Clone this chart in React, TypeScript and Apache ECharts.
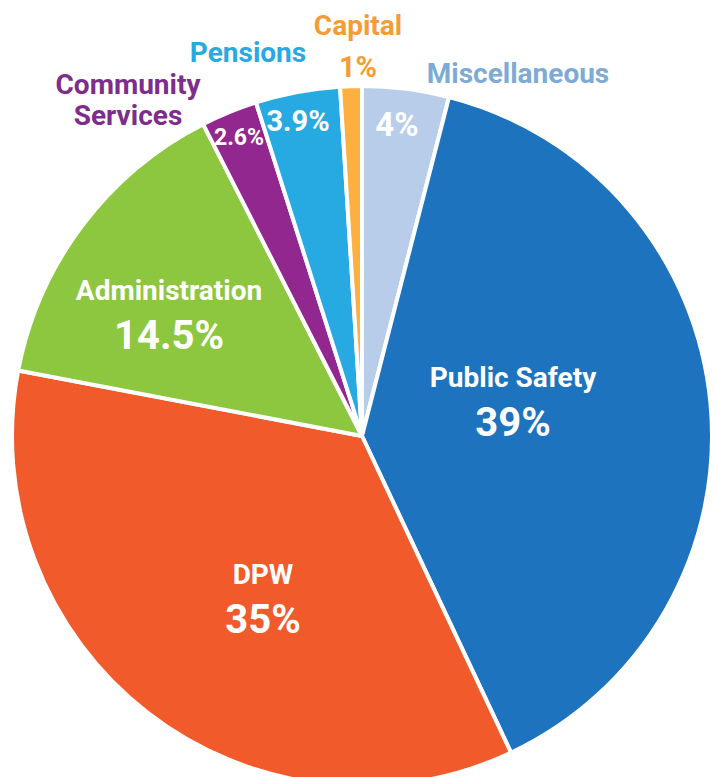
import React, { useEffect, useRef } from "react";
import * as echarts from "echarts";

const categories = ["Miscellaneous", "Public Safety", "DPW", "Administration", "Community Services", "Pensions", "Capital"];
const values = [4, 39, 35, 14.5, 2.6, 3.9, 1];
const sliceColors = ["#b7cdea", "#1e73be", "#f15a2b", "#8dc63f", "#92278f", "#27aae1", "#fbb040"];
const nameColors = ["#7eaad6", "#ffffff", "#ffffff", "#ffffff", "#7d2d8c", "#2aa9e0", "#f59c34"];
const outsideNames = ["Miscellaneous", "", "", "", "Community\nServices", "Pensions", "Capital"];

// label styling / placement (not data)
const FONT = "Roboto, 'Noto Sans', sans-serif";
type LS = { show: boolean; kind?: string; pos?: number[]; size?: number };
const innerLabels: LS[] = [
  { show: true, kind: "pct", pos: [397, 124], size: 33 },
  { show: true, kind: "big", pos: [513, 402] },
  { show: true, kind: "big", pos: [263, 599] },
  { show: true, kind: "big", pos: [169, 315] },
  { show: true, kind: "pct", pos: [239, 137], size: 23 },
  { show: true, kind: "pct", pos: [298, 121], size: 29 },
  { show: false },
];
const outerLabels: LS[] = [
  { show: true, kind: "name", pos: [518, 73] },
  { show: false },
  { show: false },
  { show: false },
  { show: true, kind: "name", pos: [128, 100] },
  { show: true, kind: "name", pos: [248, 52] },
  { show: true, kind: "cap", pos: [358, 47] },
];

function layoutFor(list: LS[]) {
  return (p: any) => {
    const l = list[p.dataIndex];
    if (!l || !l.pos) return { hideOverlap: false };
    return { x: l.pos[0], y: l.pos[1], align: "center", verticalAlign: "middle", hideOverlap: false, moveOverlap: null };
  };
}

export default function App() {
  const ref = useRef<HTMLDivElement>(null);
  useEffect(() => {
    if (!ref.current) return;
    const chart = echarts.init(ref.current, null, { renderer: "svg" });
    const innerData = categories.map((c, i) => {
      const l = innerLabels[i];
      let label: any = { show: l.show };
      if (l.show && l.kind === "big") {
        label = {
          show: true,
          formatter: `{n|${c}}\n{p|${values[i]}%}`,
          rich: {
            n: { fontFamily: FONT, fontWeight: "bold", fontSize: 28, lineHeight: 40, color: "#fff", align: "center" },
            p: { fontFamily: FONT, fontWeight: "bold", fontSize: 40, lineHeight: 50, color: "#fff", align: "center" },
          },
        };
      } else if (l.show) {
        label = {
          show: true,
          formatter: `${values[i]}%`,
          fontFamily: FONT,
          fontWeight: "bold",
          fontSize: l.size,
          color: "#fff",
        };
      }
      return { name: c, value: values[i], itemStyle: { color: sliceColors[i] }, label };
    });
    const outerData = categories.map((c, i) => {
      const l = outerLabels[i];
      let label: any = { show: l.show };
      if (l.show && l.kind === "cap") {
        label = {
          show: true,
          formatter: `{n|${outsideNames[i]}}\n{p|${values[i]}%}`,
          rich: {
            n: { fontFamily: FONT, fontWeight: "bold", fontSize: 28, lineHeight: 40, color: nameColors[i], align: "center" },
            p: { fontFamily: FONT, fontWeight: "bold", fontSize: 29, lineHeight: 44, color: nameColors[i], align: "center" },
          },
        };
      } else if (l.show) {
        label = {
          show: true,
          formatter: outsideNames[i],
          fontFamily: FONT,
          fontWeight: "bold",
          fontSize: 28,
          lineHeight: 31,
          align: "center",
          color: nameColors[i],
        };
      }
      return { name: c, value: values[i], itemStyle: { color: "rgba(0,0,0,0)" }, label };
    });
    chart.setOption({
      animation: false,
      backgroundColor: "#ffffff",
      series: [
        {
          type: "pie",
          center: [362, 436],
          radius: [0, 350],
          startAngle: 90,
          clockwise: true,
          avoidLabelOverlap: false,
          itemStyle: { borderColor: "#ffffff", borderWidth: 4 },
          label: { position: "inside" },
          labelLine: { show: false },
          labelLayout: layoutFor(innerLabels),
          emphasis: { disabled: true },
          data: innerData,
        },
        {
          type: "pie",
          center: [362, 436],
          radius: [0, 350],
          startAngle: 90,
          clockwise: true,
          silent: true,
          avoidLabelOverlap: false,
          itemStyle: { borderWidth: 0 },
          label: { position: "inside" },
          labelLine: { show: false },
          labelLayout: layoutFor(outerLabels),
          emphasis: { disabled: true },
          data: outerData,
        },
      ],
    });
    return () => chart.dispose();
  }, []);
  return <div ref={ref} style={{ position: "absolute", left: 0, top: 0, width: 715, height: 777 }} />;
}
